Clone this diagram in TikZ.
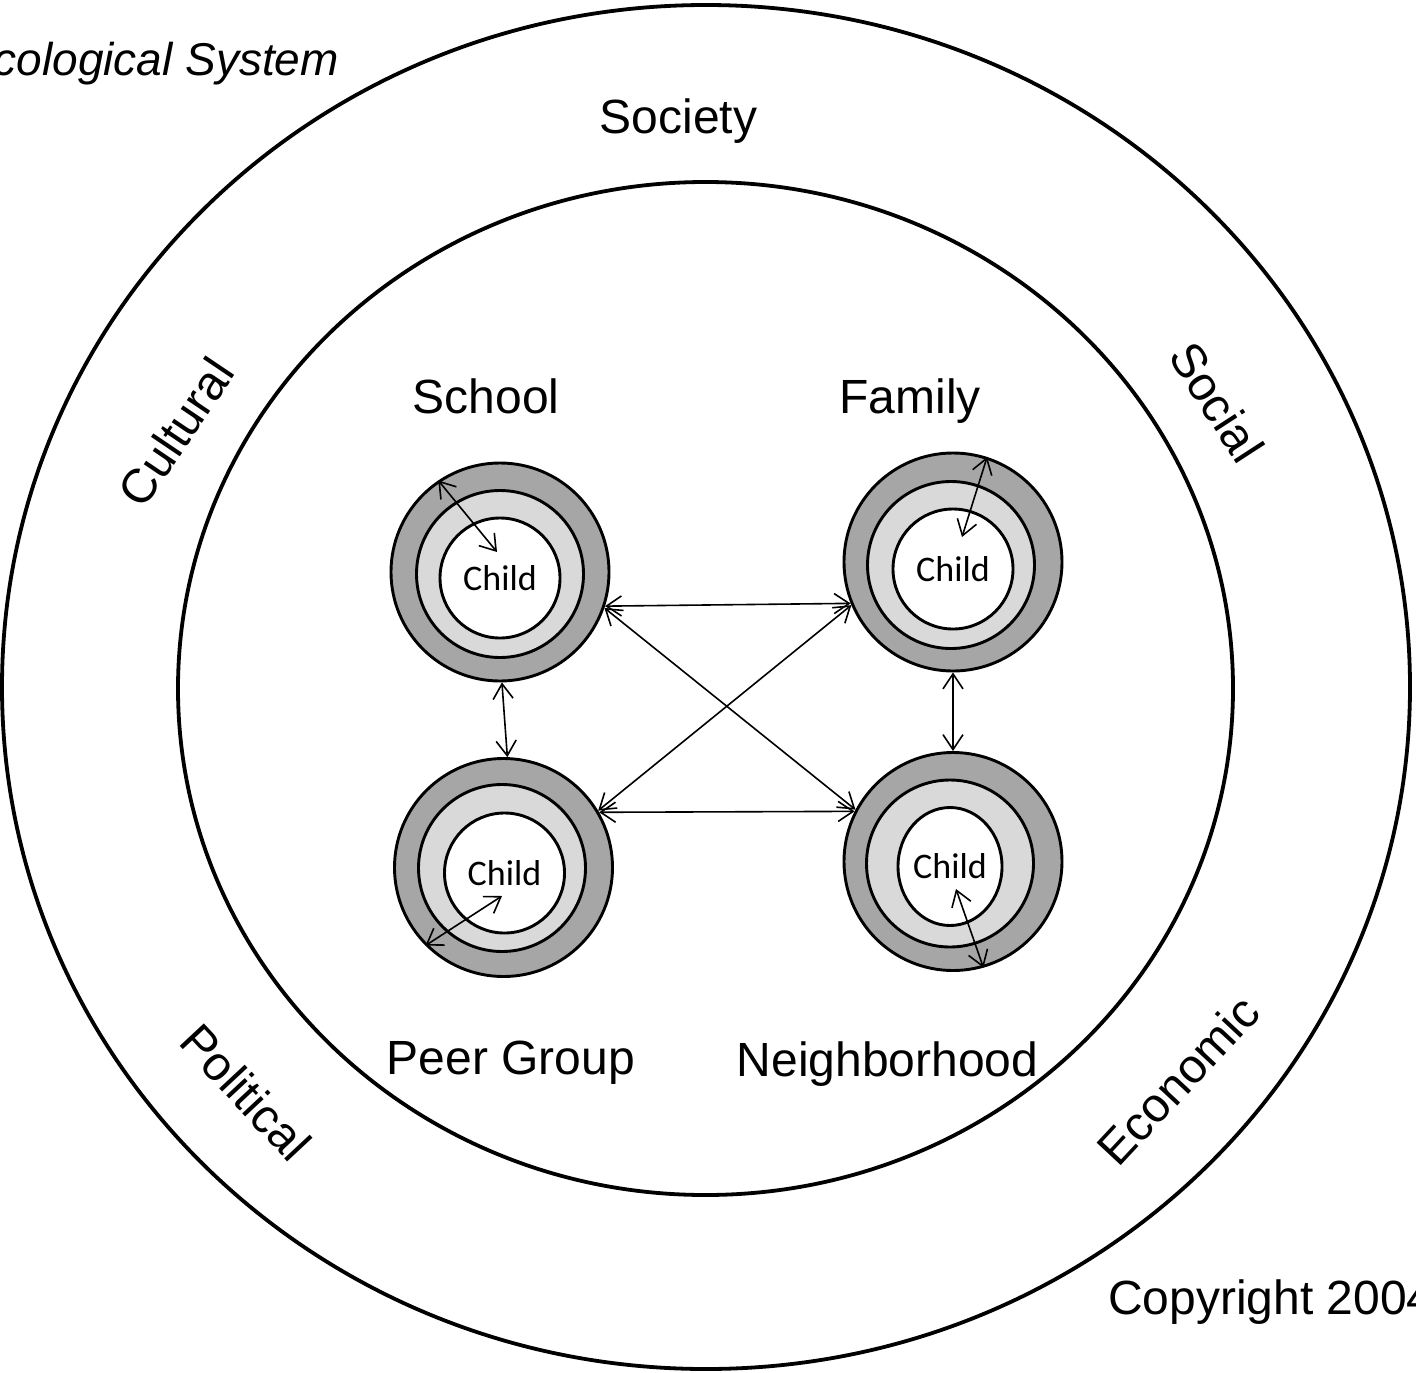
\documentclass[tikz,border=0pt]{standalone}
\usepackage{fontspec}
\setmainfont{Liberation Sans}
\newfontfamily\childfont{Carlito}
\usetikzlibrary{arrows.meta,shapes.geometric,calc}
\definecolor{ringdark}{HTML}{A6A6A6}
\definecolor{ringlight}{HTML}{D9D9D9}
\begin{document}
\begin{tikzpicture}[x=1pt,y=-1pt,
  bigring/.style={ellipse, draw, line width=3.8pt, inner sep=0pt},
  ringA/.style={circle, draw, line width=2.9pt, fill=ringdark, minimum size=218pt, inner sep=0pt},
  ringB/.style={circle, draw, line width=2.9pt, fill=ringlight, minimum size=167pt, inner sep=0pt},
  childnode/.style={circle, draw, line width=2.9pt, fill=white, minimum size=120pt, inner sep=0pt,
    font=\childfont\fontsize{36}{40}\selectfont},
  lab/.style={inner sep=0pt, font=\fontsize{48}{56}\selectfont},
  link/.style={line width=1.6pt, {Straight Barb[length=15pt,width=20pt]}-{Straight Barb[length=15pt,width=20pt]}}
]
\useasboundingbox (0,0) rectangle (1416,1373);
% big rings
\node[bigring, minimum width=1408pt, minimum height=1364pt] (outer) at (706,687) {};
\node[bigring, minimum width=1055pt, minimum height=1013pt] (inner) at (705.5,688.5) {};
% labels
\node[lab, anchor=base east, font=\itshape\fontsize{46}{54}\selectfont] (title) at (339,75) {Ecological System};
\node[lab, anchor=base] (society) at (678.5,133) {Society};
\node[lab, anchor=base] (school) at (486,413) {School};
\node[lab, anchor=base] (family) at (910,413) {Family};
\node[lab, anchor=base] (peer) at (511,1074) {Peer Group};
\node[lab, anchor=base] (neigh) at (887.5,1076) {Neighborhood};
\node[lab, anchor=base west] (copy) at (1108,1314) {Copyright 2004};
\node[lab, rotate=56] (cultural) at (176,432) {Cultural};
\node[lab, rotate=-57] (social) at (1217,402) {Social};
\node[lab, rotate=-47] (political) at (246,1092) {Political};
\node[lab, rotate=47] (economic) at (1178,1080) {Economic};
% School
\node[ringA] (S) at (500,572) {};
\node[ringB] (Sm) at (500,574) {};
\node[childnode] (Sc) at (500,578) {Child};
% Family
\node[ringA] (F) at (953,562) {};
\node[ringB] (Fm) at (951,565) {};
\node[childnode] (Fc) at (953,569) {Child};
% Peer Group
\node[ringA] (P) at (503.5,867.5) {};
\node[ringB] (Pm) at (502,868) {};
\node[childnode] (Pc) at (504.5,873) {Child};
% Neighborhood
\node[ringA] (N) at (953,861.5) {};
\node[ringB] (Nm) at (950,863.5) {};
\node[childnode, ellipse, minimum size=0pt, minimum width=100pt, minimum height=118pt] (Nc) at (950,866.5) {Child};
% inner free ends
\coordinate (Si) at (497,552);
\coordinate (Fi) at (962,537);
\coordinate (Pi) at (502,896);
\coordinate (Ni) at (956,889);
% connectors
\draw[link] (S.-18) -- (F.-158);
\draw[link] (S.-19) -- (N.152);
\draw[link] (P.31) -- (F.-157);
\draw[link] (P.30) -- (N.153);
\draw[link] (S.-89) -- (P.88);
\draw[link] (F.-90) -- (N.90);
\draw[link] (S.124) -- (Si);
\draw[link] (F.72) -- (Fi);
\draw[link] (P.-135) -- (Pi);
\draw[link] (N.-74) -- (Ni);
\end{tikzpicture}
\end{document}
